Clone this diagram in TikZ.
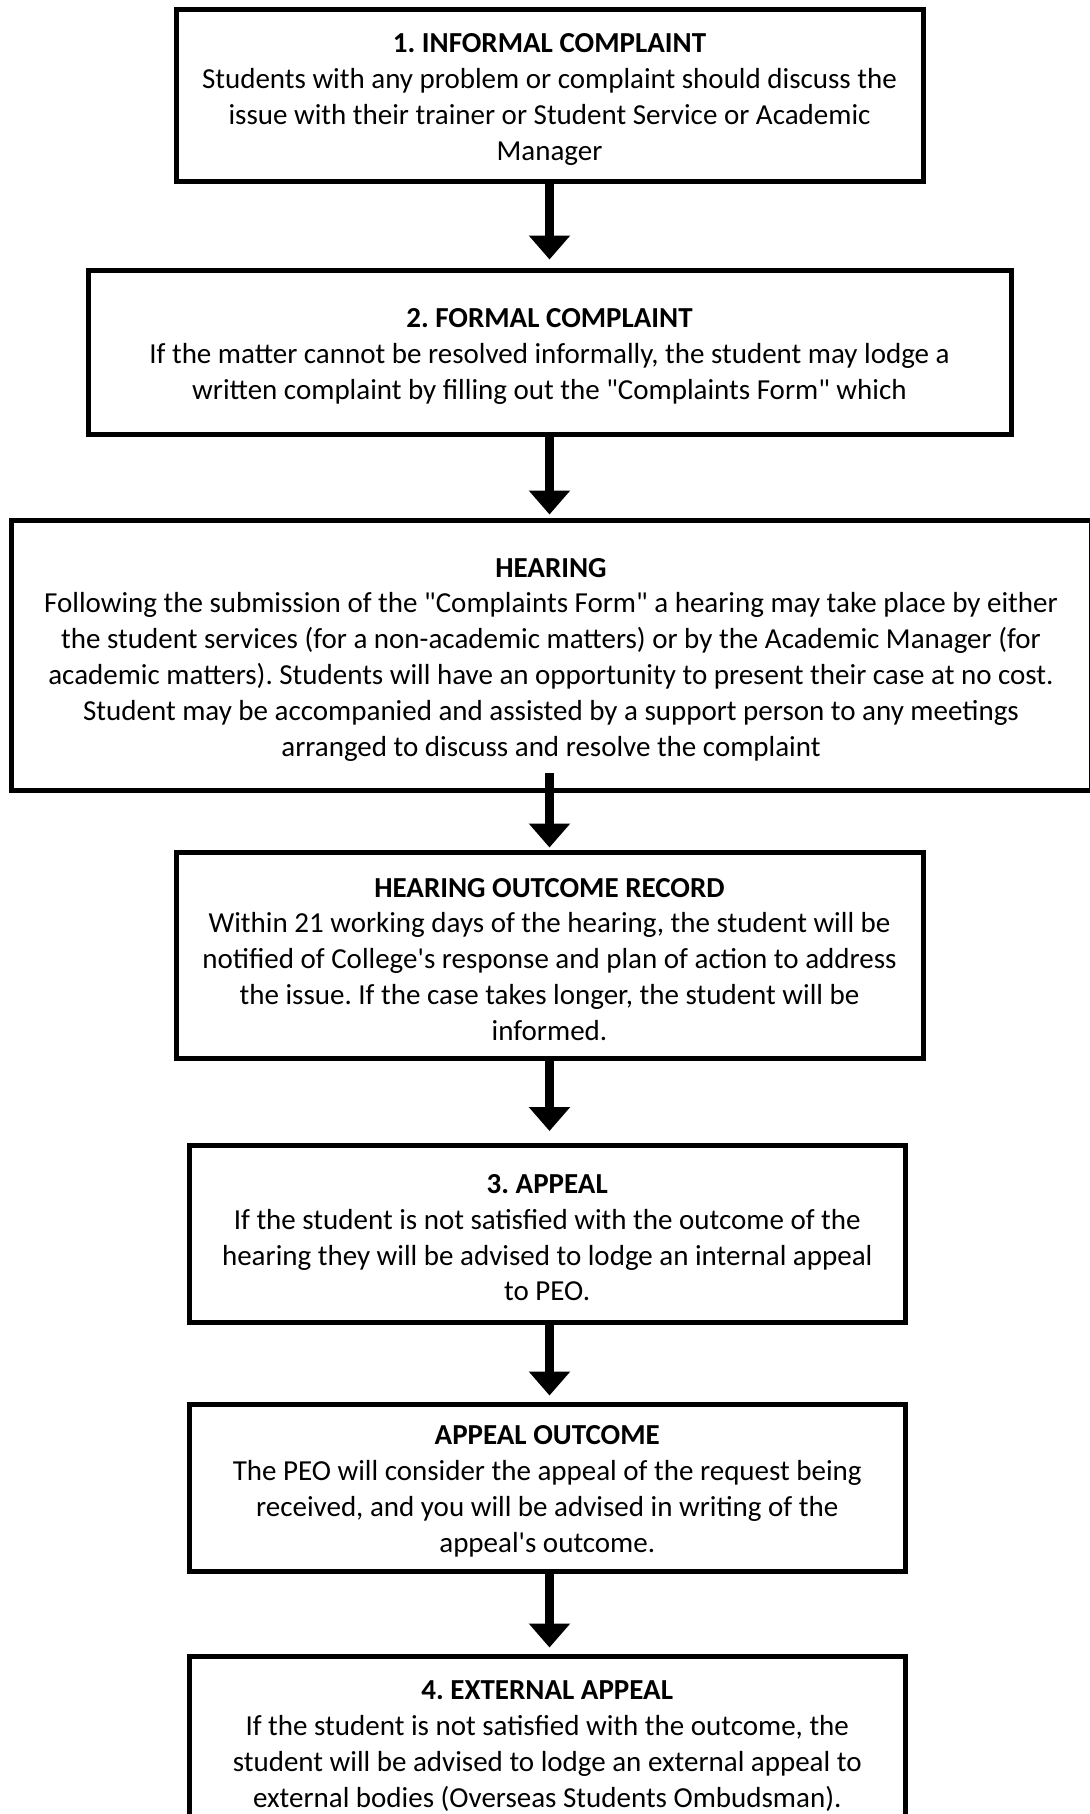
\documentclass[tikz,border=0pt]{standalone}
\usepackage{fontspec}
\setmainfont{Carlito}[Ligatures=TeXOff]
\frenchspacing
\usetikzlibrary{arrows.meta}
\tikzset{
  stage/.style={draw=black, line width=5pt, fill=white, inner sep=0pt},
  stagetext/.style={align=center, inner sep=0pt,
    font=\fontsize{29}{35.8}\selectfont},
  flowarrow/.style={line width=9pt, -{Triangle[width=40pt,length=24pt]}}
}
\begin{document}
\begin{tikzpicture}[x=1pt,y=-1pt]
\useasboundingbox (0,0) rectangle (1089,1814);
\node[stage, minimum width=747pt, minimum height=172pt] (b1) at (549.5,95.5) {};
\node[stagetext] (t1) at ([yshift=-4pt]b1.center)
 {\textbf{1. INFORMAL COMPLAINT}\\Students with any problem or complaint should discuss the\\issue with their trainer or Student Service or Academic\\Manager};
\node[stage, minimum width=923pt, minimum height=163.5pt] (b2) at (549.5,352.25) {};
\node[stagetext] (t2) at ([yshift=-4pt]b2.center)
 {\textbf{2. FORMAL COMPLAINT}\\If the matter cannot be resolved informally, the student may lodge a\\written complaint by filling out the "Complaints Form" which};
\node[stage, minimum width=1080pt, minimum height=270pt] (b3) at (551,655.5) {};
\node[stagetext] (t3) at ([yshift=-4pt]b3.center)
 {\textbf{HEARING}\\Following the submission of the "Complaints Form" a hearing may take place by either\\the student services (for a non-academic matters) or by the Academic Manager (for\\academic matters). Students will have an opportunity to present their case at no cost.\\Student may be accompanied and assisted by a support person to any meetings\\arranged to discuss and resolve the complaint};
\node[stage, minimum width=747pt, minimum height=205.5pt] (b4) at (549.5,955.25) {};
\node[stagetext] (t4) at ([yshift=-4pt]b4.center)
 {\textbf{HEARING OUTCOME RECORD}\\Within 21 working days of the hearing, the student will be\\notified of College's response and plan of action to address\\the issue. If the case takes longer, the student will be\\informed.};
\node[stage, minimum width=716.5pt, minimum height=176.5pt] (b5) at (547.25,1233.75) {};
\node[stagetext] (t5) at ([yshift=-4pt]b5.center)
 {\textbf{3. APPEAL}\\If the student is not satisfied with the outcome of the\\hearing they will be advised to lodge an internal appeal\\to PEO.};
\node[stage, minimum width=716.5pt, minimum height=167pt] (b6) at (547.25,1487.5) {};
\node[stagetext] (t6) at ([yshift=-4pt]b6.center)
 {\textbf{APPEAL OUTCOME}\\The PEO will consider the appeal of the request being\\received, and you will be advised in writing of the\\appeal's outcome.};
\node[stage, minimum width=716.5pt, minimum height=172pt] (b7) at (547.25,1742) {};
\node[stagetext] (t7) at ([yshift=-4pt]b7.center)
 {\textbf{4. EXTERNAL APPEAL}\\If the student is not satisfied with the outcome, the\\student will be advised to lodge an external appeal to\\external bodies (Overseas Students Ombudsman).};
\draw[flowarrow, shorten >=8.5pt] (b1.south) -- (b1.south |- b2.north);
\draw[flowarrow, shorten >=3.5pt] (b2.south) -- (b2.south |- b3.north);
\draw[flowarrow, shorten <=-20.5pt, shorten >=2.5pt] (b3.south -| b1.south) -- (b1.south |- b4.north);
\draw[flowarrow, shorten <=-4pt, shorten >=12pt] (b4.south) -- (b4.south |- b5.north);
\draw[flowarrow, shorten <=-4pt, shorten >=6pt] (b5.south -| b4.south) -- (b4.south |- b6.north);
\draw[flowarrow, shorten <=-3pt, shorten >=6pt] (b6.south -| b4.south) -- (b4.south |- b7.north);
\end{tikzpicture}
\end{document}
